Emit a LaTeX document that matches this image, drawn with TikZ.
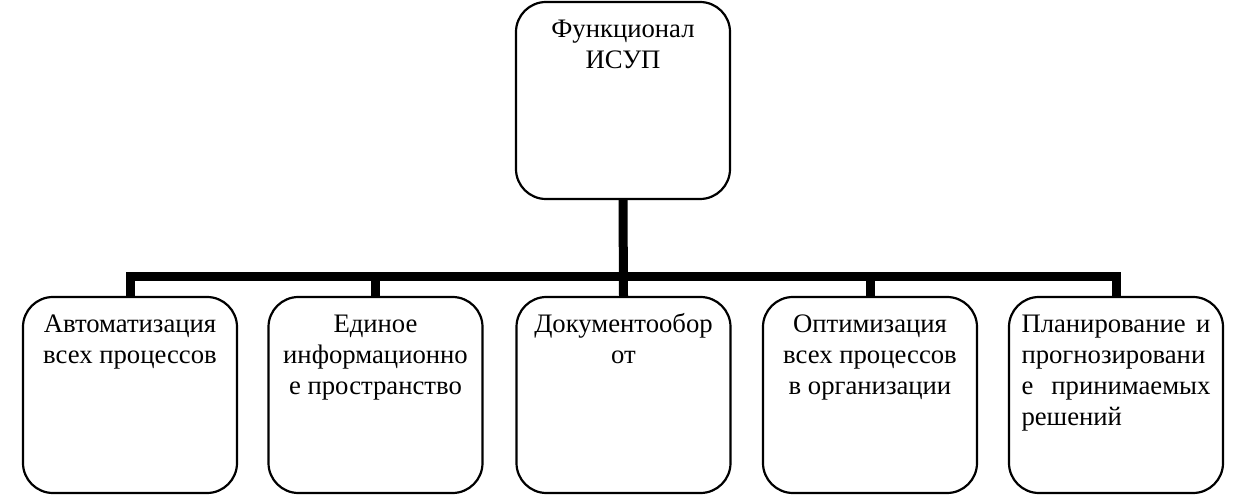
\documentclass[tikz,border=0pt]{standalone}
\usepackage{fontspec}
\setmainfont{Liberation Serif}
\newcommand\boxtxt[2]{\parbox[c][#1][t]{214bp}{\vspace*{14.5bp}\centering\parbox[t]{189bp}{\centering\strut #2}}}
\newcommand\boxtxtj[2]{\parbox[c][#1][t]{214bp}{\vspace*{14.5bp}\centering\parbox[t]{189bp}{\raggedright\strut #2}}}
\begin{document}
\begin{tikzpicture}[x=1bp,y=-1bp,
  blk/.style={draw=black,line width=2.2bp,rounded corners=30bp,inner sep=0pt,fill=white,
    font=\fontsize{26.7bp}{30.7bp}\selectfont},
  conn/.style={line width=9bp,draw=black}]
\useasboundingbox (0,0) rectangle (1239,497);
\node[blk] (top) at (623,100.5) {\boxtxt{197bp}{Функционал\\ИСУП}};
\node[blk] (b1) at (130,395) {\boxtxt{196bp}{Автоматизация\\всех процессов}};
\node[blk] (b2) at (375.5,395) {\boxtxt{196bp}{Единое\\информационно\\е пространство}};
\node[blk] (b3) at (623.5,395) {\boxtxt{196bp}{Документообор\\от}};
\node[blk] (b4) at (870,395) {\boxtxt{196bp}{Оптимизация\\всех процессов\\в организации}};
\node[blk] (b5) at (1116,395) {\boxtxtj{196bp}{Планирование\hfill и\\прогнозировани\\е\hfill принимаемых\\решений}};
\coordinate (bar) at (623,277);
\begin{scope}[on background layer/.style={}]
\draw[conn] (top.south) -- (b3.north);
\draw[conn] (b1.north) |- (b5.north|-bar) -- (b5.north);
\draw[conn] (b2.north) -- (b2.north|-bar);
\draw[conn] (b4.north) -- (b4.north|-bar);
\end{scope}
\end{tikzpicture}
\end{document}
